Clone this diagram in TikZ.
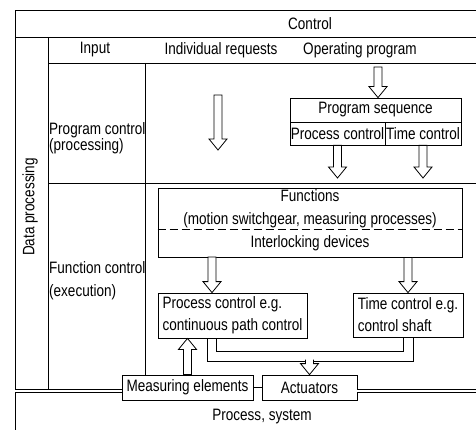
\documentclass[tikz,border=0pt]{standalone}
\usepackage{fontspec}
\setmainfont{Liberation Sans}[FakeStretch=0.82]
\usetikzlibrary{calc}

\tikzset{
    rule/.style={line width=0.9pt},
    box/.style={draw, line width=0.8pt, inner sep=0pt},
    txt/.style={inner sep=0pt},
    fatarrow/.style={draw, line width=0.8pt, fill=white, line join=miter},
}

% hollow vertical arrow from #2 to the height of #3 (optional end of path)
\newcommand{\fatarrow}[3][-- cycle]{%
    \draw[fatarrow] let \p1 = (#2), \p2 = (#3), \n1 = {sign(\y2-\y1)} in
        ({\x1-4pt}, \y1) -- ({\x1-4pt}, {\y2-11pt*(\n1)})
        -- ({\x1-9pt}, {\y2-11pt*(\n1)}) -- (\x1, \y2)
        -- ({\x1+9pt}, {\y2-11pt*(\n1)}) -- ({\x1+4pt}, {\y2-11pt*(\n1)})
        -- ({\x1+4pt}, \y1) #1;%
}

\begin{document}
\begin{tikzpicture}[x=1pt, y=-1pt, font=\fontsize{16.5}{16}\selectfont]
    \useasboundingbox (0,0) rectangle (476,430);

    % table rules, left open at the right and at the bottom
    \draw[rule] (476,10) -- (15,10) -- (15,430);
    \draw[rule] (15,37) -- (476,37);
    \draw[rule] (48,37) -- (48,389);
    \draw[rule] (48,63) -- (476,63);
    \draw[rule] (145,63) -- (145,375);
    \draw[rule] (48,183) -- (476,183);

    % headings
    \node[txt] (control) at (310,24) {Control};
    \node[txt] (input) at (95,50) {Input};
    \node[txt] (indreq) at (221,50) {Individual requests};
    \node[txt] (opprog) at (360,50) {Operating program};
    \node[txt, anchor=west, align=left] (progctl) at (49,138)
        {Program control\\(processing)};
    \node[txt, anchor=west, align=left] (funcctl) at (49,281)
        {Function control\\[7pt](execution)};
    \node[txt, rotate=90] (dataproc) at (30,207) {Data processing};
    \node[txt] (procsys) at (262,417) {Process, system};

    % program sequence
    \node[box, minimum width=171, minimum height=24] (seq) at (375.5,110)
        {Program sequence};
    \node[box, minimum width=95, minimum height=23] (seqproc) at (337.5,133.5)
        {Process control};
    \node[box, minimum width=76, minimum height=23] (seqtime) at (423,133.5)
        {Time control};

    % functions and interlocking
    \node[box, minimum width=304, minimum height=69] (func) at (310,222.5) {};
    \node[txt, align=center] (functxt) at (310,208.5)
        {Functions\\[7pt](motion switchgear, measuring processes)};
    \node[txt] (interlock) at (310,243) {Interlocking devices};
    \coordinate (dash) at (0,229);
    \draw[line width=0.8pt, dash pattern=on 8pt off 4pt]
        (func.west |- dash) -- (func.east |- dash);

    % execution level
    \node[box, minimum width=149, minimum height=45, align=left] (pctl)
        at (232.5,315.5) {Process control e.g.\\[6pt]continuous path control};
    \node[box, minimum width=110, minimum height=44, align=left] (tctl)
        at (408,315) {Time control e.g.\\[6pt]control shaft};
    \node[box, minimum width=131, minimum height=25] (meas) at (187.5,387.5)
        {Measuring elements};
    \node[box, minimum width=95, minimum height=25] (act) at (309.5,387.5)
        {Actuators};
    \draw[line width=0.8pt] (meas) -- (act);

    % boundary to the process
    \coordinate (gnd) at (15,391);
    \coordinate (gndend) at (476,391);
    \draw[double, double distance=2.4pt, line width=0.7pt] (gnd) -- (gnd -| meas.west);
    \draw[double, double distance=2.4pt, line width=0.7pt] (gnd -| act.east) -- (gndend);

    % channel from both controls to the actuators
    \draw[line width=0.8pt] ([xshift=-25pt]pctl.south) -- ++(0,23)
        -| ([xshift=5pt]tctl.south);
    \draw[line width=0.8pt] ([xshift=-16pt]pctl.south) -- ++(0,13)
        -| ([xshift=-5pt]tctl.south);

    % hollow arrows
    \coordinate (pgin) at (378,67);
    \coordinate (reqin) at (218,95);
    \coordinate (reqout) at (218,150);
    \coordinate (rowsep) at (0,178);
    \coordinate (fout) at (212,257);
    \fatarrow{pgin}{pgin |- seq.north};
    \fatarrow{reqin}{reqout};
    \fatarrow{seqproc.south}{seqproc.south |- rowsep};
    \fatarrow{seqtime.south}{seqtime.south |- rowsep};
    \fatarrow{fout}{fout |- pctl.north};
    \fatarrow{func.south -| tctl.north}{tctl.north};
    \fatarrow{meas.north}{meas.north |- pctl.south};
    \fatarrow[]{[yshift=15pt]act.north}{act.north};
\end{tikzpicture}
\end{document}
